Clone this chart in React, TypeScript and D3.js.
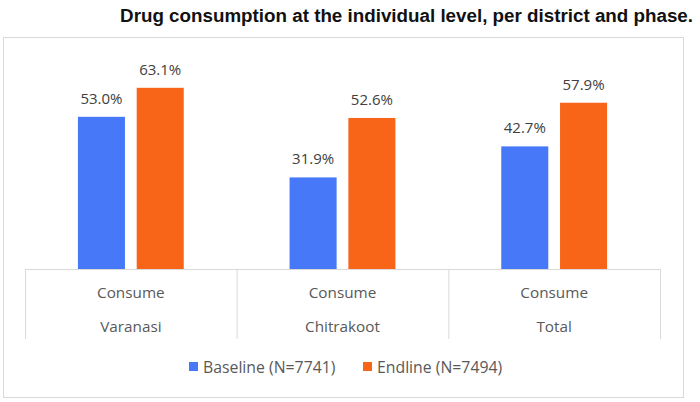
import React, { useEffect, useRef } from 'react';
import * as d3 from 'd3';

const districts = ['Varanasi', 'Chitrakoot', 'Total'];
const subLabels = ['Consume', 'Consume', 'Consume'];
const seriesNames = ['Baseline (N=7741)', 'Endline (N=7494)'];
const baseline = [53.0, 31.9, 42.7];
const endline = [63.1, 52.6, 57.9];
const colors = ['#4678F8', '#F86418'];

const App = () => {
    const ref = useRef<SVGSVGElement>(null);

    useEffect(() => {
        if (!ref.current) return;
        const svg = d3.select(ref.current);
        svg.selectAll('*').remove();

        const font = "'Open Sans', 'Noto Sans', sans-serif";

        // title
        svg.append('text')
           .attr('x', 693)
           .attr('y', 22)
           .attr('text-anchor', 'end')
           .attr('font-family', "'Liberation Sans', Arial, sans-serif")
           .attr('font-weight', 'bold')
           .attr('font-size', 18.8)
           .attr('fill', '#111')
           .text('Drug consumption at the individual level, per district and phase.');

        // chart frame
        svg.append('rect')
           .attr('x', 3.5).attr('y', 37.5)
           .attr('width', 680).attr('height', 360)
           .attr('fill', 'white')
           .attr('stroke', '#d9d9d9');

        const x0 = d3.scaleBand().domain(districts).range([25, 660]).paddingInner(0).paddingOuter(0);
        const x1 = d3.scaleBand().domain(['b', 'e']).range([0, x0.bandwidth()]).paddingInner(0.2).paddingOuter(0.9);
        const y = d3.scaleLinear().domain([0, 70]).range([269, 68]);

        const rows = districts.map((d, i) => ({ d, vals: [baseline[i], endline[i]] }));

        const g = svg.selectAll('.grp')
           .data(rows)
           .enter()
           .append('g')
           .attr('transform', r => `translate(${x0(r.d)},0)`);

        g.selectAll('rect')
         .data(r => r.vals.map((v, j) => ({ v, j })))
         .enter()
         .append('rect')
         .attr('x', c => x1(c.j === 0 ? 'b' : 'e')!)
         .attr('width', x1.bandwidth())
         .attr('y', c => y(c.v))
         .attr('height', c => y(0) - y(c.v))
         .attr('fill', c => colors[c.j]);

        g.selectAll('.val')
         .data(r => r.vals.map((v, j) => ({ v, j })))
         .enter()
         .append('text')
         .attr('x', c => x1(c.j === 0 ? 'b' : 'e')! + x1.bandwidth() / 2)
         .attr('y', c => y(c.v) - 13)
         .attr('text-anchor', 'middle')
         .attr('font-family', font)
         .attr('font-size', 15)
         .attr('fill', '#404040')
         .text(c => c.v.toFixed(1) + '%');

        // category table lines
        const axis = svg.append('g').attr('stroke', '#d9d9d9').attr('fill', 'none');
        axis.append('line').attr('x1', 25).attr('x2', 660).attr('y1', 269.5).attr('y2', 269.5);
        const edges = [...districts.map(d => x0(d)!), 660];
        edges.forEach(e => {
            axis.append('line').attr('x1', e + 0.5).attr('x2', e + 0.5).attr('y1', 269).attr('y2', 339);
        });

        districts.forEach((d, i) => {
            const cx = x0(d)! + x0.bandwidth() / 2;
            svg.append('text')
               .attr('x', cx).attr('y', 298)
               .attr('text-anchor', 'middle')
               .attr('font-family', font).attr('font-size', 15.3)
               .attr('fill', '#595959')
               .text(subLabels[i]);
            svg.append('text')
               .attr('x', cx).attr('y', 332)
               .attr('text-anchor', 'middle')
               .attr('font-family', font).attr('font-size', 15.3)
               .attr('fill', '#595959')
               .text(d);
        });

        // legend
        const legendX = [189, 363];
        seriesNames.forEach((n, i) => {
            svg.append('rect')
               .attr('x', legendX[i]).attr('y', 362)
               .attr('width', 9).attr('height', 9)
               .attr('fill', colors[i]);
            svg.append('text')
               .attr('x', legendX[i] + 14).attr('y', 372.5)
               .attr('font-family', font).attr('font-size', 15.8)
               .attr('fill', '#595959')
               .text(n);
        });
    }, []);

    return (
        <div style={{ position: 'absolute', left: 0, top: 0 }}>
            <svg ref={ref} width="700" height="402"></svg>
        </div>
    );
};

export default App;
